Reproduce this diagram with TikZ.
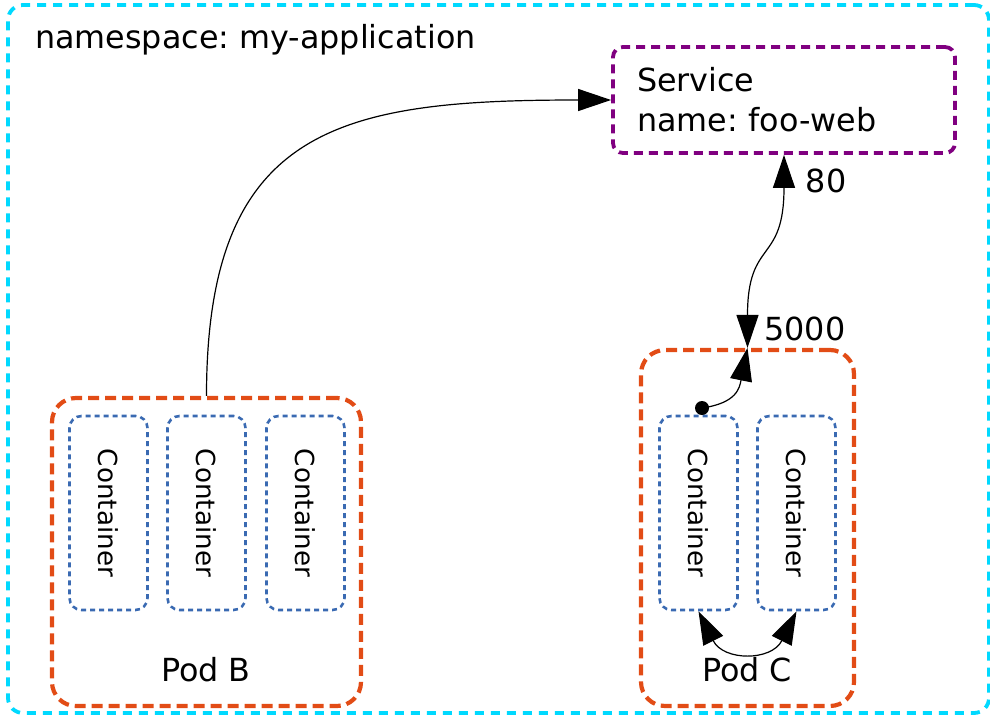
\documentclass[tikz,border=0pt]{standalone}
\usepackage{fontspec}
\setmainfont{DejaVu Sans}
\usetikzlibrary{arrows.meta}
\definecolor{nscyan}{RGB}{0,217,255}
\definecolor{podorange}{RGB}{226,76,22}
\definecolor{svcpurple}{RGB}{128,0,128}
\definecolor{ctblue}{RGB}{58,106,178}
\tikzset{
  nsbox/.style={draw=nscyan,line width=3.8pt,dash pattern=on 9pt off 7pt,rounded corners=15pt},
  podbox/.style={draw=podorange,line width=4.2pt,dash pattern=on 11pt off 6pt,rounded corners=24pt,inner sep=0pt},
  svcbox/.style={draw=svcpurple,line width=3.8pt,dash pattern=on 9pt off 6pt,rounded corners=10pt,
    align=left,text width=294pt,inner xsep=24pt,inner ysep=0pt,minimum height=106pt,minimum width=342pt,
    font=\fontsize{31.8}{40}\selectfont},
  ctbox/.style={draw=ctblue,line width=2.6pt,dash pattern=on 5pt off 4pt,rounded corners=12pt,
    minimum width=78pt,minimum height=194pt,inner sep=0pt},
  ctlabel/.style={rotate=-90,font=\fontsize{26.2}{30}\selectfont},
  lbl/.style={font=\fontsize{31.8}{36}\selectfont,inner sep=0pt},
  conn/.style={line width=1.2pt,-{Triangle[length=33pt,width=22pt]}},
  bconn/.style={line width=1.2pt,{Triangle[length=33pt,width=22pt]}-{Triangle[length=33pt,width=22pt]}},
}
\begin{document}
\frenchspacing
\begin{tikzpicture}[x=1pt,y=-1pt]
\useasboundingbox (0,0) rectangle (990,715);
% namespace
\node[nsbox,minimum width=981pt,minimum height=708pt,inner sep=0pt] (ns) at (498.5,359) {};
\node[lbl,anchor=west] (nslabel) at (35,40) {namespace: my-application};
% service
\node[svcbox] (svc) at (784,100) {Service\\name: foo-web};
% pod B
\node[podbox,minimum width=309pt,minimum height=308pt] (podB) at (206.5,552) {};
\node[ctbox] (b1) at (108.5,513) {};
\node[ctbox] (b2) at (206.5,513) {};
\node[ctbox] (b3) at (305.5,513) {};
\node[ctlabel] at (b1) {Container};
\node[ctlabel] at (b2) {Container};
\node[ctlabel] at (b3) {Container};
\node[lbl] (podBlabel) at (206,670) {Pod B};
% pod C
\node[podbox,minimum width=213pt,minimum height=356pt] (podC) at (747.5,528) {};
\node[ctbox] (c1) at (698.5,513) {};
\node[ctbox] (c2) at (796.5,513) {};
\node[ctlabel] at (c1) {Container};
\node[ctlabel] at (c2) {Container};
\node[lbl] (podClabel) at (747,670) {Pod C};
% ports
\node[lbl] (p80) at (826,181) {80};
\node[lbl] (p5000) at (805,329) {5000};
% dot
\node[circle,fill=black,inner sep=0pt,minimum size=14pt] (dot) at (702,408) {};
% connectors
\draw[conn] (podB.north) .. controls +(0,-270) and +(-270,0) .. (svc.west);
\draw[bconn] (svc.south) .. controls +(0,110) and +(0,-110) .. (podC.north);
\draw[conn] (dot.center) .. controls +(35,-5) and +(-8,40) .. (podC.north);
\draw[bconn] (c1.south) .. controls +(25,50) and +(-25,50) .. (c2.south);
\end{tikzpicture}
\end{document}
